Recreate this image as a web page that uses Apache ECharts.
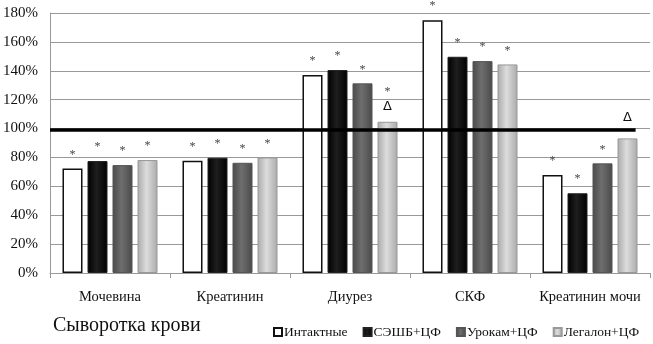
<!DOCTYPE html>
<html>
<head>
<meta charset="utf-8">
<script src="https://cdn.jsdelivr.net/npm/echarts@6/dist/echarts.min.js"></script>
<style>
  html, body { margin: 0; padding: 0; background: #fff; }
  #main { width: 653px; height: 344px; }
</style>
</head>
<body>
<div id="main"></div>
<script>
// данные (% от контроля)
const categories = ['Мочевина', 'Креатинин', 'Диурез', 'СКФ', 'Креатинин мочи'];
const seriesNames = ['Интактные', 'СЭШБ+ЦФ', 'Урокам+ЦФ', 'Легалон+ЦФ'];
const intactValues = [72.4, 77.7, 137, 175, 67.8];
const seshbValues = [77.5, 79.8, 140.5, 149.7, 55.2];
const urokamValues = [74.7, 76.3, 131.3, 146.7, 75.9];
const legalonValues = [78.2, 80, 104.7, 144.4, 93.2];
// значки над столбиками
const intactMarks = ['*', '*', '*', '*', '*'];
const seshbMarks = ['*', '*', '*', '*', '*'];
const urokamMarks = ['*', '*', '*', '*', '*'];
const legalonMarks = ['*', '*', '*\nΔ', '*', 'Δ'];
const yTicks = [0, 20, 40, 60, 80, 100, 120, 140, 160, 180];
const refLineX = [0, 4.88];
const refLineY = 99;

const serif = 'Liberation Serif';

// цилиндрическая заливка
const cyl = (edge, mid) => ({
  type: 'linear', x: 0, y: 0, x2: 1, y2: 0,
  colorStops: [
    { offset: 0, color: edge },
    { offset: 0.45, color: mid },
    { offset: 1, color: edge }
  ]
});

const markText = mark => mark.split('\n')
  .map(s => s === 'Δ' ? '{tri|Δ}' : '{ast|*}').join('\n');

const markLabel = (marks) => ({
  show: true,
  position: 'top',
  distance: 7,
  formatter: p => markText(marks[p.dataIndex]),
  rich: {
    ast: { fontFamily: serif, fontSize: 12, lineHeight: 14, color: '#444' },
    tri: { fontFamily: 'DejaVu Sans', fontSize: 13, lineHeight: 16, color: '#111' }
  }
});

// для «Креатинин мочи» треугольник выше (над чертой 100%)
const legalonData = legalonValues.map((v, i) =>
  i === 4 ? { value: v, label: { distance: 13 } } : v);

const barBase = {
  type: 'bar',
  barWidth: 20,
  barGap: '25%',
  barCategoryGap: '21%'
};

const chart = echarts.init(document.getElementById('main'));

chart.setOption({
  animation: false,
  title: {
    text: 'Сыворотка крови',
    left: 48,
    top: 311,
    textStyle: { fontFamily: serif, fontSize: 20, fontWeight: 'normal', color: '#111' }
  },
  legend: {
    left: 268,
    top: 320,
    icon: 'rect',
    itemWidth: 8,
    itemHeight: 8,
    itemGap: 15,
    textStyle: { fontFamily: serif, fontSize: 13.5, color: '#111', padding: [0, 0, 0, -3] },
    data: seriesNames
  },
  grid: { left: 50, right: 3, top: 13, bottom: 71 },
  xAxis: [
    {
      type: 'category',
      data: categories,
      axisLine: { lineStyle: { color: '#999' } },
      axisTick: { show: true, length: 5, lineStyle: { color: '#999' } },
      axisLabel: { interval: 0, fontFamily: serif, fontSize: 14.5, color: '#111', margin: 17 }
    },
    { type: 'value', min: 0, max: 5, show: false }
  ],
  yAxis: {
    type: 'value',
    min: 0,
    max: 180,
    interval: 20,
    axisLine: { show: true, lineStyle: { color: '#999' } },
    axisTick: { show: false },
    splitLine: { lineStyle: { color: '#999' } },
    axisLabel: {
      fontFamily: serif, fontSize: 15, color: '#111', margin: 12,
      formatter: v => yTicks.includes(v) ? v + '%' : ''
    }
  },
  series: [
    Object.assign({}, barBase, {
      name: seriesNames[0],
      data: intactValues,
      itemStyle: { color: '#fff', borderColor: '#111', borderWidth: 1.5 },
      label: markLabel(intactMarks)
    }),
    Object.assign({}, barBase, {
      name: seriesNames[1],
      data: seshbValues,
      itemStyle: { color: cyl('#000', '#1e1e1e'), borderColor: '#222', borderWidth: 1 },
      label: markLabel(seshbMarks)
    }),
    Object.assign({}, barBase, {
      name: seriesNames[2],
      data: urokamValues,
      itemStyle: { color: cyl('#4a4a4a', '#6e6e6e'), borderColor: '#555', borderWidth: 1 },
      label: markLabel(urokamMarks)
    }),
    Object.assign({}, barBase, {
      name: seriesNames[3],
      data: legalonData,
      itemStyle: { color: cyl('#aaaaaa', '#dcdcdc'), borderColor: '#999', borderWidth: 1 },
      label: markLabel(legalonMarks)
    }),
    {
      type: 'line',
      xAxisIndex: 1,
      data: refLineX.map(x => [x, refLineY]),
      symbol: 'none',
      silent: true,
      lineStyle: { color: '#000', width: 3.5 },
      z: 5
    }
  ]
});
</script>
</body>
</html>
